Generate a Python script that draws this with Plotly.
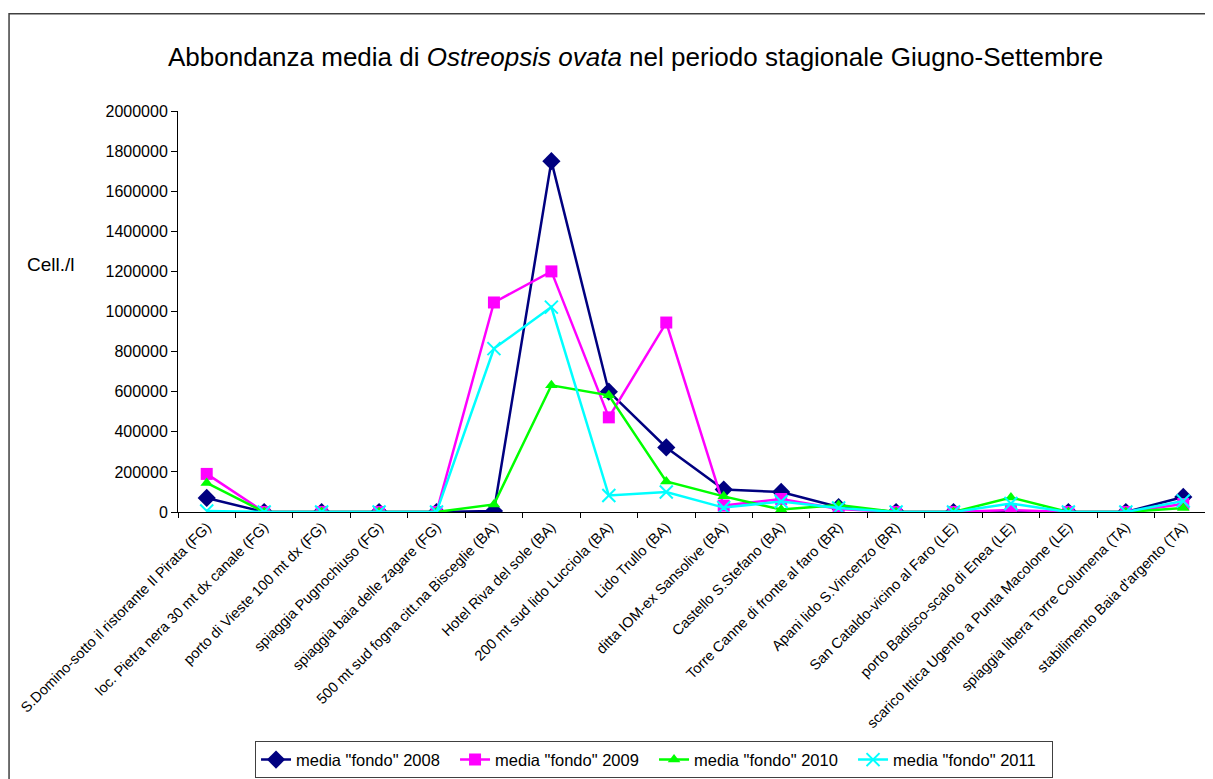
import plotly.graph_objects as go

categories = [
    "S.Domino-sotto il ristorante Il Pirata (FG)",
    "loc. Pietra nera 30 mt dx canale (FG)",
    "porto di Vieste 100 mt dx (FG)",
    "spiaggia Pugnochiuso (FG)",
    "spiaggia baia delle zagare (FG)",
    "500 mt sud fogna citt.na Bisceglie (BA)",
    "Hotel Riva del sole (BA)",
    "200 mt sud lido Lucciola (BA)",
    "Lido Trullo (BA)",
    "ditta IOM-ex Sansolive (BA)",
    "Castello S.Stefano (BA)",
    "Torre Canne di fronte al faro (BR)",
    "Apani lido S.Vincenzo (BR)",
    "San Cataldo-vicino al Faro (LE)",
    "porto Badisco-scalo di Enea (LE)",
    "scarico Ittica Ugento a Punta Macolone (LE)",
    "spiaggia libera Torre Columena (TA)",
    "stabilimento Baia d'argento (TA)",
]

media_2008 = [70000, 0, 0, 0, 0, 5000, 1750000, 600000, 322000, 112000, 100000, 25000, 0, 0, 2000, 0, 0, 75000]
media_2009 = [190000, 0, 0, 0, 0, 1045000, 1200000, 472000, 945000, 32000, 65000, 15000, 0, 0, 10000, 0, 0, 40000]
media_2010 = [145000, 0, 0, 0, 0, 38000, 632000, 582000, 152000, 78000, 12000, 35000, 0, 0, 72000, 0, 0, 20000]
media_2011 = [5000, 0, 0, 0, 0, 815000, 1022000, 82000, 100000, 22000, 52000, 20000, 0, 0, 42000, 0, 0, 55000]

y_ticks = list(range(0, 2000001, 200000))

series = [
    ('media "fondo" 2008', media_2008, "#000080", "diamond", 14),
    ('media "fondo" 2009', media_2009, "#FF00FF", "square", 12),
    ('media "fondo" 2010', media_2010, "#00FF00", "triangle-up", 11),
    ('media "fondo" 2011', media_2011, "#00FFFF", "x-thin", 13),
]

FONT = "Arial, Liberation Sans, sans-serif"

fig = go.Figure()
for name, vals, color, sym, size in series:
    marker = dict(symbol=sym, size=size, color=color)
    if sym == "x-thin":
        marker["line"] = dict(color=color, width=2)
    fig.add_trace(go.Scatter(
        x=categories, y=vals, name=name, mode="lines+markers",
        line=dict(color=color, width=2.5), marker=marker,
    ))

fig.update_layout(
    width=1205, height=771,
    margin=dict(l=170, r=1, t=103, b=267),
    paper_bgcolor="white", plot_bgcolor="white",
    font=dict(family=FONT, color="black", size=12),
    showlegend=True,
    legend=dict(
        orientation="h", x=0.0745, y=-0.572, xanchor="left", yanchor="top",
        bordercolor="#404040", borderwidth=1, font=dict(size=16.5, family=FONT),
        entrywidth=154, entrywidthmode="pixels", tracegroupgap=0,
        itemsizing="trace",
    ),
    xaxis=dict(
        type="category", range=[-0.5, 17.5], tickangle=-45,
        showline=True, linecolor="black", linewidth=1,
        ticks="outside", ticklen=5, tickcolor="black", tickson="boundaries",
        showgrid=False, zeroline=False, tickfont=dict(size=14.5, family=FONT),
    ),
    yaxis=dict(
        range=[0, 2000000], tickvals=y_ticks, ticktext=[str(v) for v in y_ticks],
        showline=True, linecolor="black", linewidth=1,
        ticks="outside", ticklen=6, tickcolor="black",
        showgrid=False, zeroline=False, tickfont=dict(size=16, family=FONT),
    ),
    annotations=[
        dict(text="Abbondanza media di <i>Ostreopsis ovata</i> nel periodo stagionale Giugno-Settembre",
             xref="paper", yref="paper", x=0.442, y=1.135, xanchor="center", yanchor="middle",
             showarrow=False, font=dict(size=26, family=FONT)),
        dict(text="Cell./l", xref="paper", yref="paper", x=-0.148, y=0.616,
             xanchor="left", yanchor="middle", showarrow=False, font=dict(size=19, family=FONT)),
    ],
    shapes=[
        dict(type="rect", xref="paper", yref="paper", x0=-0.1634, x1=1.05, y0=-0.8, y1=1.2425,
             line=dict(color="#404040", width=1.5), layer="below"),
    ],
)

fig.write_html("out.html")
